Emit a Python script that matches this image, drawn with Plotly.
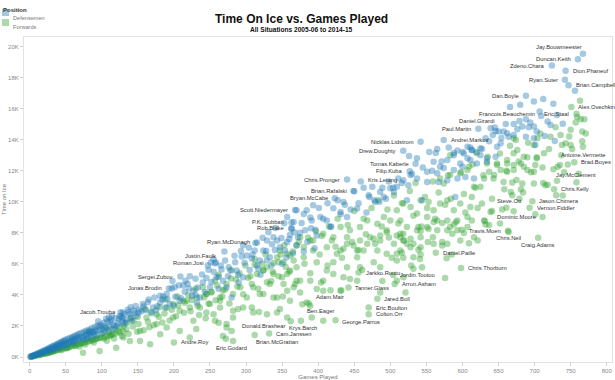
import plotly.graph_objects as go

# ---------------- data (games played, time on ice in thousands) ----------------
y_tick_values = [0, 2, 4, 6, 8, 10, 12, 14, 16, 18, 20]
y_tick_labels = ["0K", "2K", "4K", "6K", "8K", "10K", "12K", "14K", "16K", "18K", "20K"]
x_tick_values = [0, 50, 100, 150, 200, 250, 300, 350, 400, 450, 500, 550, 600, 650, 700, 750, 800]

defense_cloud = [
    (1,0.02),(2,0.04),(3,0.05),(4,0.08),(5,0.07),(6,0.12),(7,0.11),(8,0.16),(9,0.13),(10,0.2),
    (11,0.18),(12,0.24),(13,0.2),(14,0.29),(15,0.25),(16,0.33),(17,0.28),(18,0.38),(19,0.31),(20,0.42),
    (21,0.36),(22,0.46),(23,0.39),(24,0.5),(25,0.44),(26,0.55),(27,0.47),(28,0.6),(29,0.5),(30,0.64),
    (31,0.55),(32,0.69),(33,0.57),(34,0.73),(35,0.62),(36,0.78),(37,0.65),(38,0.82),(39,0.7),(40,0.87),
    (41,0.72),(42,0.92),(43,0.77),(44,0.96),(45,0.8),(46,1.01),(47,0.85),(48,1.06),(49,0.88),(50,1.11),
    (52,0.93),(53,1.17),(55,0.98),(56,1.23),(58,1.04),(59,1.29),(61,1.09),(62,1.35),(64,1.15),(65,1.42),
    (67,1.2),(68,1.48),(70,1.26),(71,1.55),(73,1.31),(75,1.62),(77,1.38),(78,1.69),(80,1.44),(82,1.76),
    (84,1.5),(86,1.85),(88,1.58),(90,1.93),(92,1.65),(94,2.01),(96,1.72),(98,2.1),(100,1.8),(103,2.2),
    (105,1.88),(108,2.3),(110,1.97),(113,2.4),(116,2.08),(119,2.52),(122,2.18),(125,2.64),(128,2.3),
    (131,2.76),(134,2.41),(137,2.88),(141,2.53),(144,3.0),(148,2.66),
    (57,1.0),(74,1.25),(89,1.45),(104,1.7),(118,1.95),(133,2.2),(95,2.3),(110,2.55),(140,3.2),(85,1.3),
    (115,1.8),(130,2.15),(60,1.2),(66,1.3),(79,1.55),(83,1.62),(97,1.95),(101,2.0),(112,2.25),(124,2.45),
    (127,2.6),(139,2.75),(146,2.85),(152,3.05),(155,2.95),(158,3.25),
    (157,3.41),(181,3.51),(190,4.06),(208,3.62),(227,4.27),(236,3.84),(213,4.6),(194,3.41),(171,3.19),
    (259,5.13),(273,4.49),(287,5.57),(296,5.13),(280,3.84),(301,6.54),(312,6.86),(319,6.21),(329,7.51),
    (338,7.72),(347,7.07),(357,7.4),(333,6.43),(294,6.47),(308,6.34),(280,5.57),(245,5.09),(219,4.72),
    (201,4.49),(268,4.92),(343,7.5),(354,6.86),(324,6.86),(365,6.67),(329,6.21),(315,5.89),(165,3.7),
    (175,3.0),(185,3.9),(200,3.3),(215,4.2),(230,4.0),(240,4.8),(250,4.5),(255,5.5),(262,4.4),(265,5.9),
    (275,5.2),(285,6.1),(290,4.8),(305,5.6),(320,5.3),(335,5.9),(340,6.9),(350,6.0),(360,7.6),(370,7.2),
    (375,8.0),(380,6.8),(385,7.4),(390,8.3),(395,7.0),(181,3.95),(222,5.2),(247,5.9),(198,4.9),(232,3.5),
    (270,6.8),(255,6.3),(296,7.2),
    (486,10.63),(500,10.87),(509,10.96),(518,11.39),(528,11.72),(551,11.93),(565,11.83),(574,12.17),
    (588,12.04),(600,12.25),(607,12.8),(579,12.69),(563,13.14),(588,13.14),(613,13.33),(620,12.47),
    (475,10.96),(470,10.42),(454,9.56),(440,9.02),(435,9.99),(431,9.34),(421,9.58),(412,8.8),(403,9.02),
    (393,9.77),(391,8.8),(384,9.45),(382,8.16),(370,9.45),(366,8.69),(357,9.02),(363,8.26),(372,7.72),
    (398,7.83),(417,8.37),(479,9.99),(491,10.31),(505,10.63),(523,10.1),(544,10.1),(551,11.28),
    (537,11.5),(525,11.07),(567,11.28),(579,11.39),(593,11.5),(604,11.6),(616,11.5),(590,10.31),
    (699,16.46),(680,16.25),(666,16.1),(726,16.31),(688,15.32),(694,15.1),(699,14.84),(692,14.8),
    (683,14.84),(676,14.67),(718,15.17),(722,14.95),(650,14.52),(662,14.41),(671,14.3),(653,13.77),
    (632,14.09),(625,13.44),(634,12.8),(646,12.9),(688,14.19),(699,14.09),(701,13.66),
    (588,13.0),(600,13.2),(607,13.55),(613,13.33),(625,13.0),(648,13.55),(634,12.58),(611,12.69),
    (597,12.47),(569,12.25),(560,12.58),(657,14.52),(664,14.19),(639,14.74),(646,14.56),(756,17.15),
]

defense_cloud_more = [
    (19,0.29),(26,0.36),(31,0.44),(36,0.52),(41,0.58),(47,0.67),(51,0.76),(54,0.84),(61,0.91),(63,1.02),
    (69,1.07),(76,1.13),(81,1.22),(87,1.61),(91,1.72),(93,1.38),(102,1.57),(106,2.47),(109,1.76),(114,2.62),
    (121,2.03),(126,2.88),(129,2.51),(136,3.04),(142,2.33),(147,3.28),(151,2.87),(161,3.02),(164,3.53),
    (169,2.82),(173,3.84),(177,3.27),(184,3.7),(188,3.18),(191,3.73),(197,4.41),(202,3.88),(207,4.63),
    (210,3.79),(216,4.92),(221,4.42),(225,3.93),(230,5.04),(233,4.48),(239,5.31),(243,4.19),(248,5.62),
    (252,4.83),(257,6.04),(262,5.17),(266,5.63),(271,6.22),(276,5.78),(284,6.52),(289,5.28),(293,6.83),
    (298,6.07),(304,7.04),(309,6.61),(313,7.34),(317,5.69),(323,7.68),(328,6.83),(331,8.04),(336,7.27),
    (341,8.31),(349,7.66),(353,8.62),(356,6.41),(361,7.88),(367,8.04),(377,8.63),(380,9.21),(389,8.98),
    (396,8.2),(401,9.6),(407,8.9),(413,9.9),(418,8.4),(427,10.1),(431,9.2),(437,9.8),(445,9.5),
    (449,10.7),(456,9.9),(463,10.9),(467,9.3),(471,10.3),(478,10.1),(485,10.0),(489,10.9),(494,10.2),
    (498,11.3),(504,10.9),(511,11.5),(516,11.2),(526,12.95),(530,11.8),(537,12.8),(545,12.2),(554,13.2),
    (558,12.0),(565,13.4),(571,12.6),(581,13.5),(593,13.3),(602,13.1),(611,13.5),(619,13.2),(627,13.4),
    (637,13.9),(642,14.3),(654,14.1),(660,15.0),(671,15.0),(679,15.2),(707,15.82),(712,16.61),
    (731,15.58),(703,14.52),(714,14.23),(728,13.92),(739,15.03),
]

forward_cloud = [
    (2,0.02),(4,0.04),(6,0.06),(8,0.09),(10,0.11),(12,0.12),(14,0.16),(16,0.17),(18,0.2),(20,0.22),
    (22,0.24),(24,0.28),(26,0.29),(28,0.33),(30,0.34),(32,0.37),(34,0.4),(36,0.41),(38,0.45),(40,0.47),
    (43,0.5),(46,0.54),(49,0.58),(52,0.6),(55,0.66),(58,0.68),(61,0.74),(64,0.76),(67,0.82),(70,0.85),
    (73,0.9),(76,0.92),(79,0.98),(82,1.0),(85,1.05),(88,1.08),(91,1.14),(94,1.17),(97,1.22),(100,1.25),
    (104,1.3),(108,1.35),(112,1.42),(116,1.46),(120,1.53),(125,1.58),(130,1.65),
    (83,1.68),(106,1.9),(130,2.0),(144,2.33),(153,1.68),(162,2.54),(176,2.76),(190,3.19),(199,2.54),
    (208,2.98),(218,3.62),(227,2.33),(236,3.19),(245,4.06),(255,2.76),(264,3.62),(273,2.12),(280,1.68),
    (268,1.36),(282,2.98),(167,0.82),(139,1.04),(120,0.6),(97,0.39),(74,0.28),(111,1.36),(130,1.25),
    (153,1.04),(181,1.47),(190,1.9),(176,2.12),(208,1.68),(222,1.25),(79,1.15),(60,0.82),(42,0.6),(28,0.28),
    (257,4.92),(273,4.71),(292,4.49),(315,5.35),(324,5.57),(333,4.71),(350,5.13),(361,5.57),(370,4.92),
    (357,4.27),(338,3.84),(319,4.06),(301,3.84),(282,4.06),(264,3.84),(245,4.06),(232,3.84),(213,3.62),
    (199,3.41),(222,3.19),(250,3.41),(366,6.21),(357,6.65),(343,6.43),(329,5.78),
    (375,7.72),(389,7.51),(370,7.18),(393,6.86),(380,6.43),(398,6.1),(370,5.78),(352,6.1),(361,6.54),
    (347,6.86),(338,5.35),(357,5.35),(375,4.92),(389,4.92),(407,4.92),(412,5.57),(421,6.1),(426,6.65),
    (435,6.97),(419,7.51),(440,7.72),(449,7.18),(454,6.43),(463,6.86),(468,7.29),(477,7.62),(486,7.83),
    (495,8.04),(509,7.83),(518,7.51),(528,7.07),(514,6.86),(532,6.43),(509,6.21),(495,6.65),(477,6.1),
    (486,5.78),(458,5.78),(440,5.78),(444,5.03),(454,4.92),(435,5.13),(421,5.35),(509,4.92),(518,5.13),
    (521,4.16),(486,4.16),(431,4.27),(417,4.3),(398,4.38),(375,4.16),(366,4.49),(352,4.71),
    (384,3.51),(389,3.3),(361,3.62),(343,3.84),(324,4.06),(310,4.49),(329,4.81),(347,3.09),(329,2.76),
    (310,2.87),(296,3.19),(282,2.54),(264,3.19),(257,2.33),(245,2.87),(407,2.33),(391,2.54),
    (357,2.54),(343,2.87),(308,3.19),(273,1.9),(282,1.04),
    (514,7.94),(539,8.37),(560,8.69),(572,8.63),(583,8.37),(588,8.54),(602,7.98),(518,7.94),(542,8.11),
    (553,8.26),(528,7.62),(532,7.29),(542,7.72),(559,7.72),(572,7.4),(572,7.18),(586,7.94),(609,7.33),
    (539,6.91),(542,6.6),(516,6.71),(518,6.39),(578,6.36),(541,6.32),(532,5.68),(544,5.78),(576,5.09),
    (631,8.76),(637,8.5),
    (542,10.1),(553,9.99),(560,9.45),(569,9.88),(579,10.1),(574,11.18),(569,11.5),(583,11.72),(597,11.83),
    (607,12.04),(613,10.31),(611,9.66),(597,9.88),(588,9.45),(607,9.02),(593,8.8),(579,8.8),(565,8.8),
    (551,9.02),(537,9.24),(528,9.66),(518,9.88),(509,9.45),(500,8.8),(514,8.8),(523,8.37),(537,8.16),
    (551,8.37),(565,8.16),(579,8.16),(593,8.16),(607,8.37),(491,9.02),(482,8.59),(468,8.8),(458,8.37),
    (444,8.16),(431,8.37),(495,8.16),(514,7.72),(523,7.29),(505,7.29),(486,7.51),(472,7.72),(458,7.51),
    (440,7.29),(421,7.72),(407,7.94),(393,7.51),(380,7.07),(412,7.07),(431,6.86),(454,6.86),(482,6.86),
    (509,6.65),(542,7.07),(560,7.29),(579,7.29),(597,7.51),(616,7.72),(613,8.8),(616,10.96),
    (735,12.36),(732,12.25),(713,13.12),(703,12.86),(690,12.86),(701,12.36),(711,12.21),(685,12.25),
    (671,12.36),(662,12.47),(681,12.47),(648,12.47),(634,12.47),(653,12.04),(662,11.93),(671,12.04),
    (690,12.04),(699,11.93),(637,11.93),(644,11.72),(630,11.5),(657,11.28),(669,11.24),(683,11.18),
    (699,11.18),(715,11.07),(731,11.35),(730,10.42),(681,10.81),(667,10.63),(669,10.42),(625,10.96),
    (627,9.88),(639,9.34),(655,9.5),(671,9.39),(630,8.8),(632,8.54),
    (763,16.5),(764,15.32),(769,15.32),(759,15.45),(750,14.63),(766,14.52),(736,14.3),(743,13.77),
    (750,13.66),(738,13.66),(722,14.19),(704,14.09),(699,13.66),(671,13.12),(685,12.9),(674,13.98),
    (583,13.0),(609,12.25),(620,13.12),(648,12.36),(662,12.69),(671,14.09),(676,13.33),
    (262,5.3),(278,5.6),(286,5.0),(299,5.9),(306,5.2),(312,6.3),(322,6.0),(337,5.5),(345,6.1),(355,5.8),
    (240,4.5),(252,4.2),(268,4.3),(230,4.4),(220,4.0),(205,3.9),(188,3.7),(180,3.2),(168,2.9),(160,3.1),
    (150,2.6),(140,2.5),(135,2.2),(125,1.9),(118,1.8),(110,1.6),(100,1.5),
]

forward_cloud_more = [
    (15,0.16),(23,0.21),(33,0.36),(44,0.44),(51,0.55),(54,0.62),(63,0.71),(69,0.68),(71,0.89),(77,0.81),
    (86,1.12),(89,0.93),(93,1.21),(103,1.2),(107,1.05),(114,1.44),(117,1.19),(123,1.68),(128,1.36),
    (134,1.81),(137,1.5),(143,1.96),(149,1.63),(151,2.12),(158,1.72),(164,2.28),(166,1.91),(172,2.05),
    (179,2.6),(184,2.22),(187,2.81),(194,2.35),(197,3.05),(203,2.62),(206,3.32),(214,2.85),(215,3.5),
    (223,2.95),(225,3.68),(233,3.3),(235,2.7),(242,3.85),(248,3.45),(252,4.15),(258,3.65),(260,4.6),
    (267,3.9),(271,4.35),(277,3.45),(279,5.05),(288,4.55),(291,5.4),(296,4.05),(303,5.1),(308,4.7),
    (312,5.95),(317,4.4),(324,5.6),(327,6.6),(335,4.9),(338,6.05),(345,5.2),(348,6.6),(353,7.2),
    (360,5.5),(365,6.8),(368,4.7),(373,7.4),(381,6.0),(386,7.7),(389,5.4),(397,8.1),(402,6.6),(405,7.8),
    (413,5.9),(415,8.4),(424,7.1),(427,8.9),(433,6.4),(441,8.5),(447,7.4),(450,9.4),(456,6.9),(463,8.9),
    (466,7.9),(474,9.6),(479,7.3),(483,10.1),(488,8.4),(496,9.5),(498,7.7),(505,10.4),(511,8.6),
    (516,9.9),(519,7.5),(527,10.7),(532,9.1),(535,11.2),(543,8.4),(548,10.3),(551,9.6),(559,11.3),
    (562,8.9),(567,10.6),(576,9.8),(580,11.7),(584,10.2),(591,8.7),(598,11.9),(602,10.5),(604,9.3),
    (614,12.4),(618,10.9),(621,9.6),(629,11.7),(635,12.9),(641,10.2),(643,11.5),(652,13.1),(658,10.8),
    (661,12.0),(666,13.6),(675,11.4),(678,12.6),(684,10.6),(691,13.8),(695,11.9),(703,12.8),(708,14.4),
    (712,11.2),(720,13.4),(726,12.1),(729,14.8),(737,13.0),(741,11.9),(748,14.2),(752,13.4),(757,15.1),
    (766,13.9),(771,14.4),
    (231,1.8),(244,2.5),(262,2.2),(289,3.1),(318,2.9),(351,3.9),(378,3.4),(404,4.8),(432,4.3),(461,5.6),
    (489,4.9),(502,6.4),(529,5.9),(552,7.4),(585,6.6),(599,8.2),(621,7.5),(641,9.4),(652,8.6),(679,10.2),
    (701,9.2),(718,11.1),(739,10.4),(746,12.4),(761,11.8),
]

labeled_defense = [
    ("Jay.Bouwmeester", 767, 19.53), ("Duncan.Keith", 760, 19.18), ("Zdeno.Chara", 724, 18.77),
    ("Dion.Phaneuf", 743, 18.43), ("Ryan.Suter", 742, 17.86), ("Brian.Campbell", 747, 17.5),
    ("Dan.Boyle", 688, 16.83), ("Francois.Beauchemin", 709, 15.53), ("Daniel.Girardi", 645, 14.78),
    ("Paul.Martin", 622, 14.7), ("Andrei.Markov", 574, 13.98), ("Nicklas.Lidstrom", 542, 13.87),
    ("Drew.Doughty", 518, 13.29), ("Tomas.Kaberle", 535, 12.45), ("Filip.Kuba", 527, 11.97),
    ("Chris.Pronger", 440, 11.43), ("Kris.Letang", 459, 11.3), ("Brian.Rafalski", 450, 10.68),
    ("Bryan.McCabe", 423, 10.23), ("Scott.Niedermayer", 368, 9.47), ("P.K..Subban", 363, 8.67),
    ("Rob.Blake", 363, 8.3), ("Ryan.McDonagh", 315, 7.38), ("Justin.Faulk", 258, 6.08),
    ("Roman.Josi", 251, 6.08), ("Sergei.Zubov", 209, 5.18), ("Jonas.Brodin", 193, 4.42),
    ("Jacob.Trouba", 129, 2.87),
]

labeled_forwards = [
    ("Alex.Ovechkin", 751, 16.1), ("Eric.Staal", 758, 15.66), ("Antoine.Vermette", 767, 13.55),
    ("Brad.Boyes", 755, 12.54), ("Jay.McClement", 758, 11.26), ("Chris.Kelly", 727, 10.81),
    ("Steve.Ott", 661, 9.62), ("Jason.Chimera", 697, 10.03), ("Vernon.Fiddler", 693, 9.62),
    ("Dominic.Moore", 711, 9.02), ("Travis.Moen", 663, 8.14), ("Chris.Neil", 664, 8.05),
    ("Craig.Adams", 705, 7.68), ("Daniel.Paille", 563, 6.71), ("Chris.Thorburn", 598, 5.74),
    ("Jarkko.Ruutu", 456, 5.44), ("Jordin.Tootoo", 504, 5.29), ("Arron.Asham", 506, 4.7),
    ("Tanner.Glass", 442, 4.47), ("Jared.Boll", 482, 3.75), ("Eric.Boulton", 470, 3.19),
    ("Colton.Orr", 470, 2.76), ("George.Parros", 424, 2.37), ("Adam.Mair", 407, 4.27),
    ("Ben.Eager", 387, 3.45), ("Donald.Brashear", 362, 2.3), ("Krys.Barch", 376, 2.33),
    ("Cam.Janssen", 332, 1.51), ("Brian.McGrattan", 312, 1.42), ("Eric.Godard", 272, 1.17),
    ("Andre.Roy", 200, 0.94),
]

# label placement (anchor, x shift px, y shift px); default: left of the mark
RIGHT = ("left", 5, 0)
label_placement = {
    "Jay.Bouwmeester": ("right", 1, 7), "Daniel.Girardi": ("right", 1, 7),
    "Justin.Faulk": ("right", 2, 7), "Francois.Beauchemin": ("right", -4, 2),
    "Dion.Phaneuf": RIGHT, "Brian.Campbell": RIGHT, "Andrei.Markov": RIGHT,
    "Kris.Letang": ("left", 5, 2), "Alex.Ovechkin": RIGHT, "Brad.Boyes": RIGHT,
    "Chris.Kelly": RIGHT, "Jason.Chimera": RIGHT, "Vernon.Fiddler": RIGHT,
    "Daniel.Paille": RIGHT, "Chris.Thorburn": RIGHT, "Jarkko.Ruutu": RIGHT,
    "Jordin.Tootoo": RIGHT, "Arron.Asham": RIGHT, "Tanner.Glass": RIGHT,
    "Jared.Boll": RIGHT, "Eric.Boulton": RIGHT, "Colton.Orr": RIGHT,
    "George.Parros": ("left", 5, -2), "Cam.Janssen": RIGHT, "Andre.Roy": RIGHT,
    "Antoine.Vermette": ("center", 0, -8), "Jay.McClement": ("center", 0, 7),
    "Steve.Ott": ("center", 3, 7), "Chris.Neil": ("center", 0, -6),
    "Craig.Adams": ("center", 0, -7), "Adam.Mair": ("center", 7, -6),
    "Ben.Eager": ("center", 12, -8), "Krys.Barch": ("center", 2, -7),
    "Donald.Brashear": ("right", -3, -5), "Brian.McGrattan": ("left", -1, -7),
    "Eric.Godard": ("center", 6, -9),
}

BLUE = "#1f77b4"
GREEN = "#2ca02c"
FONT = "Liberation Sans, Arial, sans-serif"

# ---------------- figure ----------------
fig = go.Figure()

fw_pts = forward_cloud + forward_cloud_more
df_pts = defense_cloud + defense_cloud_more
fw_x = [p[0] for p in fw_pts] + [p[1] for p in labeled_forwards]
fw_y = [p[1] for p in fw_pts] + [p[2] for p in labeled_forwards]
df_x = [p[0] for p in df_pts] + [p[1] for p in labeled_defense]
df_y = [p[1] for p in df_pts] + [p[2] for p in labeled_defense]

fig.add_trace(go.Scatter(x=fw_x, y=fw_y, mode="markers", name="Forwards",
                         marker=dict(color=GREEN, size=6.5, opacity=0.4, line=dict(width=0)),
                         hoverinfo="skip"))
fig.add_trace(go.Scatter(x=df_x, y=df_y, mode="markers", name="Defensemen",
                         marker=dict(color=BLUE, size=6.5, opacity=0.4, line=dict(width=0)),
                         hoverinfo="skip"))

annotations = []
for name, g, t in labeled_defense + labeled_forwards:
    anchor, dx, dy = label_placement.get(name, ("right", -5, 0))
    annotations.append(dict(x=g, y=t, xref="x", yref="y", text=name, showarrow=False,
                            xanchor=anchor, yanchor="middle", xshift=dx, yshift=dy,
                            font=dict(family=FONT, size=5.8, color="#333333")))

W, H = 615, 380
L, R, T, B = 24, 3, 37, 18
pw, ph = W - L - R, H - T - B


def px_x(px):
    return (px - L) / pw


def px_y(py):
    return (H - B - py) / ph


# title and subtitle
annotations.append(dict(x=px_x(301), y=px_y(10), xref="paper", yref="paper",
                        text="<b>Time On Ice vs. Games Played</b>", showarrow=False,
                        font=dict(family=FONT, size=12, color="#111111")))
annotations.append(dict(x=px_x(301), y=px_y(23.5), xref="paper", yref="paper",
                        text="<b>All Situations 2005-06 to 2014-15</b>", showarrow=False,
                        font=dict(family=FONT, size=6.6, color="#111111")))

# legend (manual)
annotations.append(dict(x=px_x(1), y=px_y(5), xref="paper", yref="paper", text="<b>Position</b>",
                        showarrow=False, xanchor="left", font=dict(family=FONT, size=6, color="#333333")))
annotations.append(dict(x=px_x(11), y=px_y(12.5), xref="paper", yref="paper", text="Defensemen",
                        showarrow=False, xanchor="left", font=dict(family=FONT, size=5.6, color="#777777")))
annotations.append(dict(x=px_x(11), y=px_y(22.5), xref="paper", yref="paper", text="Forwards",
                        showarrow=False, xanchor="left", font=dict(family=FONT, size=5.6, color="#777777")))
shapes = [
    dict(type="rect", xref="paper", yref="paper", x0=px_x(2), x1=px_x(9), y0=px_y(16), y1=px_y(9),
         fillcolor="#a5c8e1", line=dict(width=0)),
    dict(type="rect", xref="paper", yref="paper", x0=px_x(2), x1=px_x(9), y0=px_y(26), y1=px_y(19),
         fillcolor="#abd9ab", line=dict(width=0)),
]

fig.update_layout(
    width=W, height=H,
    margin=dict(l=L, r=R, t=T, b=B),
    paper_bgcolor="white", plot_bgcolor="white",
    showlegend=False,
    annotations=annotations, shapes=shapes,
    font=dict(family=FONT, size=6, color="#777777"),
)
fig.update_xaxes(range=[-7.8, 807.3], tickvals=x_tick_values, showgrid=False, zeroline=False,
                 showline=True, linecolor="#e3e3e3", linewidth=1, mirror=True,
                 ticks="outside", ticklen=3, tickcolor="#d0d0d0",
                 tickfont=dict(family=FONT, size=6, color="#888888"),
                 title=dict(text="Games Played", standoff=1, font=dict(family=FONT, size=6, color="#777777")),
                 automargin=False)
fig.update_yaxes(range=[-0.32, 20.61], tickvals=y_tick_values, ticktext=y_tick_labels,
                 showgrid=False, zeroline=False,
                 showline=True, linecolor="#e3e3e3", linewidth=1, mirror=True,
                 ticks="outside", ticklen=3, tickcolor="#d0d0d0",
                 tickfont=dict(family=FONT, size=6, color="#888888"),
                 title=dict(text="Time on Ice", standoff=1, font=dict(family=FONT, size=6, color="#777777")),
                 automargin=False)

fig.write_html("out.html", config={"displayModeBar": False},
               post_script="document.body.style.margin='0px';document.body.style.overflow='hidden';")
